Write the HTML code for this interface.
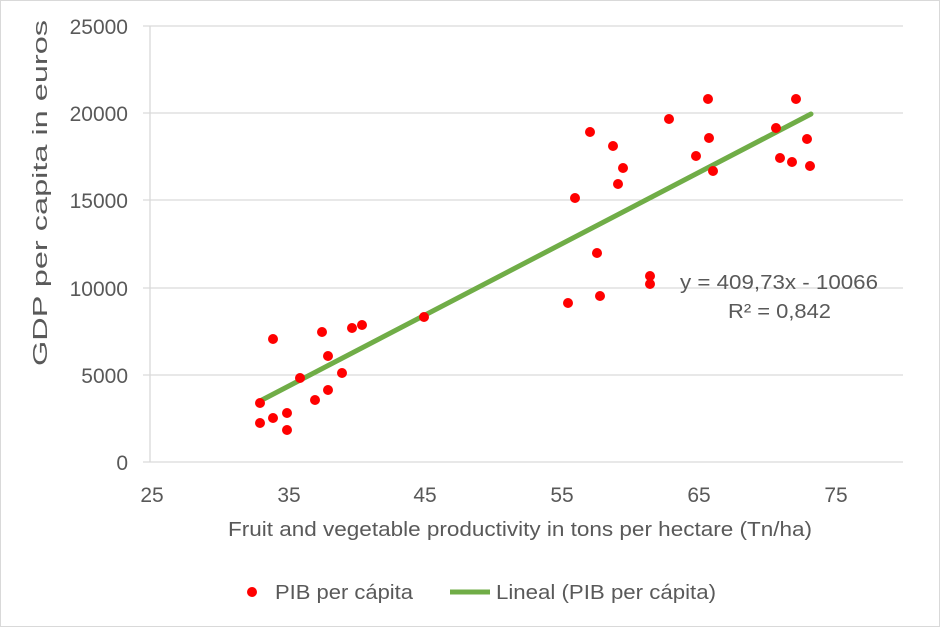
<!DOCTYPE html>
<html><head><style>body{margin:0;background:#fff}svg{display:block;font-family:"Liberation Sans",Calibri,sans-serif}</style></head><body>
<svg width="940" height="627" viewBox="0 0 940 627">
<rect x="0.5" y="0.5" width="939" height="626" fill="#fff" stroke="#d9d9d9"/>
<g stroke="#d9d9d9" stroke-width="1.3">
<line x1="143" x2="903" y1="26" y2="26"/><line x1="143" x2="903" y1="113" y2="113"/><line x1="143" x2="903" y1="200" y2="200"/><line x1="143" x2="903" y1="288" y2="288"/><line x1="143" x2="903" y1="375" y2="375"/><line x1="143" x2="903" y1="462" y2="462"/>
<line x1="150" x2="150" y1="26" y2="462"/>
</g>
<g fill="#595959" font-size="21" text-anchor="end">
<text x="128" y="34">25000</text><text x="128" y="121">20000</text><text x="128" y="208">15000</text><text x="128" y="296">10000</text><text x="128" y="383">5000</text><text x="128" y="470">0</text>
</g>
<g fill="#595959" font-size="21" text-anchor="middle">
<text x="152" y="502">25</text><text x="289" y="502">35</text><text x="425" y="502">45</text><text x="562" y="502">55</text><text x="699" y="502">65</text><text x="836" y="502">75</text>
</g>
<g fill="#595959" font-size="20">
<text x="228" y="536" textLength="584" lengthAdjust="spacingAndGlyphs">Fruit and vegetable productivity in tons per hectare (Tn/ha)</text>
<text transform="translate(47,366) rotate(-90)" textLength="346" lengthAdjust="spacingAndGlyphs">GDP per capita in euros</text>
<text x="680" y="289" textLength="198" lengthAdjust="spacingAndGlyphs">y = 409,73x - 10066</text>
<text x="728" y="318" textLength="103" lengthAdjust="spacingAndGlyphs">R² = 0,842</text>
</g>
<line x1="260" y1="401" x2="811" y2="114" stroke="#70ad47" stroke-width="5" stroke-linecap="round"/>
<g fill="#ff0000">
<circle cx="260" cy="403" r="5"/><circle cx="260" cy="423" r="5"/><circle cx="273" cy="418" r="5"/><circle cx="287" cy="413" r="5"/><circle cx="287" cy="430" r="5"/><circle cx="273" cy="339" r="5"/><circle cx="300" cy="378" r="5"/><circle cx="315" cy="400" r="5"/><circle cx="328" cy="390" r="5"/><circle cx="328" cy="356" r="5"/><circle cx="322" cy="332" r="5"/><circle cx="342" cy="373" r="5"/><circle cx="352" cy="328" r="5"/><circle cx="362" cy="325" r="5"/><circle cx="424" cy="317" r="5"/>
<circle cx="568" cy="303" r="5"/><circle cx="575" cy="198" r="5"/><circle cx="590" cy="132" r="5"/><circle cx="597" cy="253" r="5"/><circle cx="600" cy="296" r="5"/><circle cx="613" cy="146" r="5"/><circle cx="618" cy="184" r="5"/><circle cx="623" cy="168" r="5"/><circle cx="650" cy="276" r="5"/><circle cx="650" cy="284" r="5"/><circle cx="669" cy="119" r="5"/><circle cx="696" cy="156" r="5"/><circle cx="708" cy="99" r="5"/><circle cx="709" cy="138" r="5"/><circle cx="713" cy="171" r="5"/><circle cx="776" cy="128" r="5"/><circle cx="780" cy="158" r="5"/><circle cx="792" cy="162" r="5"/><circle cx="796" cy="99" r="5"/><circle cx="807" cy="139" r="5"/><circle cx="810" cy="166" r="5"/>
</g>
<circle cx="252" cy="592" r="5" fill="#ff0000"/>
<text x="275" y="599" fill="#595959" font-size="20" textLength="138" lengthAdjust="spacingAndGlyphs">PIB per cápita</text>
<line x1="450" y1="592" x2="490" y2="592" stroke="#70ad47" stroke-width="5"/>
<text x="496" y="599" fill="#595959" font-size="20" textLength="220" lengthAdjust="spacingAndGlyphs">Lineal (PIB per cápita)</text>
</svg>
</body></html>
